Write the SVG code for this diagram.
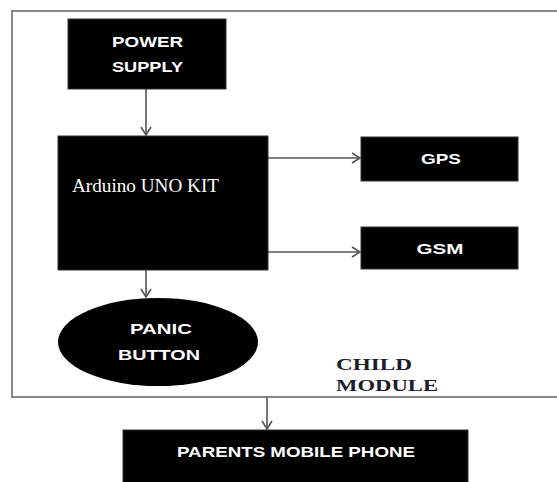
<svg xmlns="http://www.w3.org/2000/svg" width="557" height="482" viewBox="0 0 557 482">
<defs>
<style>
.box{fill:#000;stroke:#333;stroke-width:1}
.lbl{font-family:"Liberation Sans",Arial,sans-serif;font-weight:bold;font-size:15px;fill:#fff;text-anchor:middle}
.conn{stroke:#555;stroke-width:1.6;fill:none}
</style>
<marker id="ah" markerWidth="12" markerHeight="12" refX="9" refY="6" orient="auto" markerUnits="userSpaceOnUse">
<path d="M1,1 L9,6 L1,11" fill="none" stroke="#555" stroke-width="1.6"/>
</marker>
</defs>
<rect width="557" height="482" fill="#fff"/>
<g id="frame">
<path d="M560,11 L12,11 L12,397 L560,397" fill="none" stroke="#888" stroke-width="2"/>
</g>
<g id="connectors">
<line class="conn" x1="146" y1="89" x2="146" y2="135" marker-end="url(#ah)"/>
<line class="conn" x1="268" y1="158" x2="360" y2="158" marker-end="url(#ah)"/>
<line class="conn" x1="268" y1="252" x2="360" y2="252" marker-end="url(#ah)"/>
<line class="conn" x1="146" y1="270" x2="146" y2="297" marker-end="url(#ah)"/>
<line class="conn" x1="267" y1="397" x2="267" y2="429" marker-end="url(#ah)"/>
</g>
<g id="power">
<rect class="box" x="68" y="19" width="158" height="70"/>
<text class="lbl" x="147.5" y="47" textLength="71" lengthAdjust="spacingAndGlyphs">POWER</text>
<text class="lbl" x="147.5" y="72" textLength="71" lengthAdjust="spacingAndGlyphs">SUPPLY</text>
</g>
<g id="arduino">
<rect class="box" x="58" y="136" width="210" height="134"/>
<text x="72" y="192" font-family="Liberation Serif,'Times New Roman',serif" font-size="19" fill="#fff" textLength="147" lengthAdjust="spacingAndGlyphs">Arduino UNO KIT</text>
</g>
<g id="gps">
<rect class="box" x="361" y="137" width="157" height="44"/>
<text class="lbl" x="441" y="164" textLength="40" lengthAdjust="spacingAndGlyphs">GPS</text>
</g>
<g id="gsm">
<rect class="box" x="361" y="227" width="157" height="42"/>
<text class="lbl" x="440" y="254" textLength="47" lengthAdjust="spacingAndGlyphs">GSM</text>
</g>
<g id="panic">
<ellipse cx="158" cy="342" rx="100" ry="44" fill="#000"/>
<text class="lbl" x="161" y="334" textLength="62" lengthAdjust="spacingAndGlyphs">PANIC</text>
<text class="lbl" x="159" y="360" textLength="82" lengthAdjust="spacingAndGlyphs">BUTTON</text>
</g>
<g id="child-label">
<text x="336" y="370" font-family="Liberation Serif,'Times New Roman',serif" font-weight="bold" font-size="17" fill="#1c1c2c" textLength="76" lengthAdjust="spacingAndGlyphs">CHILD</text>
<text x="336" y="391" font-family="Liberation Serif,'Times New Roman',serif" font-weight="bold" font-size="17" fill="#1c1c2c" textLength="102" lengthAdjust="spacingAndGlyphs">MODULE</text>
</g>
<g id="parents">
<rect class="box" x="123" y="430" width="345" height="60"/>
<text class="lbl" x="296" y="457" textLength="238" lengthAdjust="spacingAndGlyphs">PARENTS MOBILE PHONE</text>
</g>
</svg>
